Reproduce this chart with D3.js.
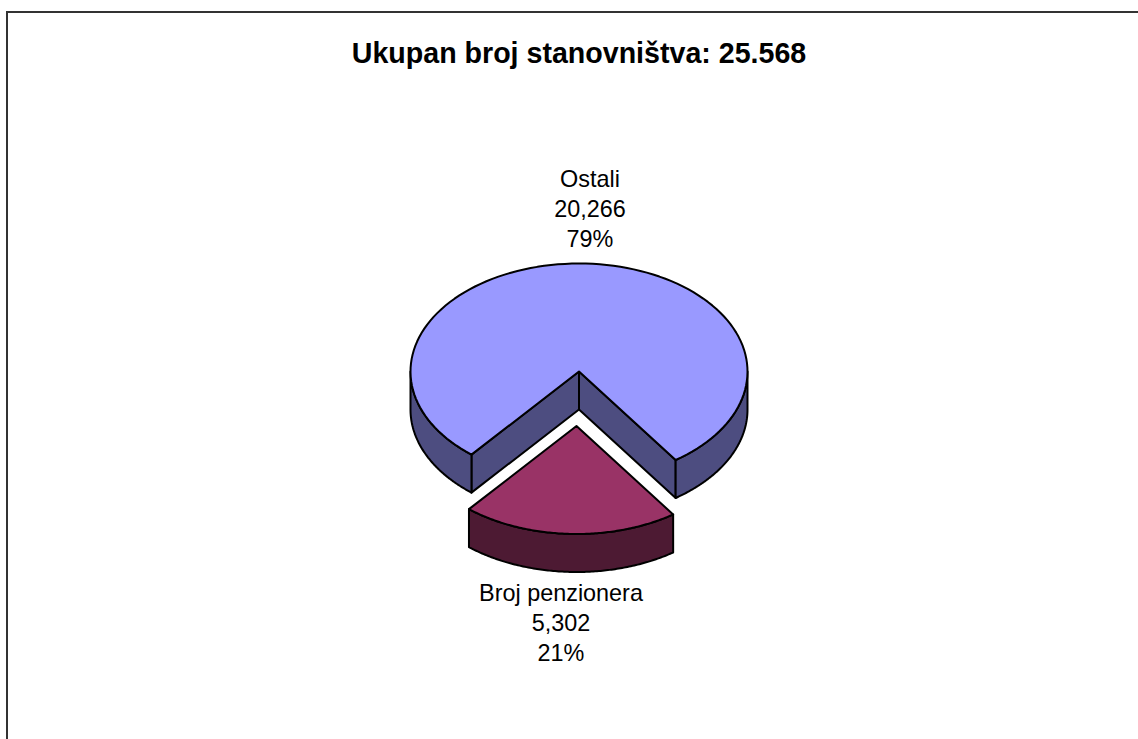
<!DOCTYPE html>
<html><head><meta charset="utf-8">
<script src="https://d3js.org/d3.v7.min.js"></script>
<style>html,body{margin:0;padding:0;background:#fff}svg{display:block}text{font-family:"Liberation Sans",Arial,sans-serif;fill:#000}</style>
</head><body><script>
const categories = ["Broj penzionera", "Ostali"];
const values = [5302, 20266];
const valueLabels = ["5,302", "20,266"];
const percentLabels = ["21%", "79%"];
const titleText = "Ukupan broj stanovništva: 25.568";
const topColors = ["#993366", "#9999FF"];
const sideColors = ["#4D1A33", "#4D4D80"];

const W = 1138, H = 739;
const svg = d3.select("body").append("svg").attr("width", W).attr("height", H);
svg.append("path").attr("d", `M7,${H}V12H1138`).attr("fill","none").attr("stroke","#333").attr("stroke-width",2);
svg.append("text").attr("x",579).attr("y",63).attr("text-anchor","middle")
  .style("font-size","28.6px").style("font-weight","bold").text(titleText);

const cx = 579, cy = 371.5, rx = 168.5, ry = 108, depth = 38;
const offsets = [[-2.5,54.5],[0,0]];
const startDeg = 145;
const arcs = d3.pie().sort(null).value(d=>d)
  .startAngle(startDeg*Math.PI/180).endAngle((startDeg+360)*Math.PI/180)(values);
const P = (a,o,dz=0)=>[cx+o[0]+rx*Math.sin(a), cy+o[1]-ry*Math.cos(a)+dz];
const line = pts => "M"+pts.map(p=>p[0].toFixed(2)+","+p[1].toFixed(2)).join("L");
const samples = (a0,a1)=>d3.range(0,121).map(i=>a0+(a1-a0)*i/120);
const strokeOf = s=>s.attr("stroke","#000").attr("stroke-width",2).attr("stroke-linejoin","round");

[1,0].forEach(i=>{
  const d = arcs[i], o = offsets[i], g = svg.append("g");
  const apex=[cx+o[0],cy+o[1]];
  const fa0=Math.max(d.startAngle,Math.PI/2), fa1=Math.min(d.endAngle,Math.PI*1.5);
  const rims=[];
  if(i===1){
    const e=d.endAngle-2*Math.PI;
    rims.push([Math.PI/2,e]);
    rims.push([d.startAngle,Math.PI*1.5]);
    [e,d.startAngle].forEach(a=>{
      const p=P(a,o);
      strokeOf(g.append("path").attr("d",line([apex,p,[p[0],p[1]+depth],[apex[0],apex[1]+depth]])+"Z").attr("fill",sideColors[i]));
    });
  } else rims.push([fa0,fa1]);
  rims.forEach(r=>{
    const s=samples(r[0],r[1]);
    const top=s.map(a=>P(a,o)), bot=s.map(a=>P(a,o,depth)).reverse();
    strokeOf(g.append("path").attr("d",line(top.concat(bot))+"Z").attr("fill",sideColors[i]));
  });
  const topPts=[apex].concat(samples(d.startAngle,d.endAngle).map(a=>P(a,o)));
  strokeOf(g.append("path").attr("d",line(topPts)+"Z").attr("fill",topColors[i]));
});

const labelPos=[[561,601],[590,187]];
categories.forEach((c,i)=>{
  const t=svg.append("text").attr("text-anchor","middle").style("font-size","23.4px");
  [c,valueLabels[i],percentLabels[i]].forEach((s,k)=>{
    t.append("tspan").attr("x",labelPos[i][0]).attr("y",labelPos[i][1]+k*30).text(s);
  });
});
</script></body></html>
